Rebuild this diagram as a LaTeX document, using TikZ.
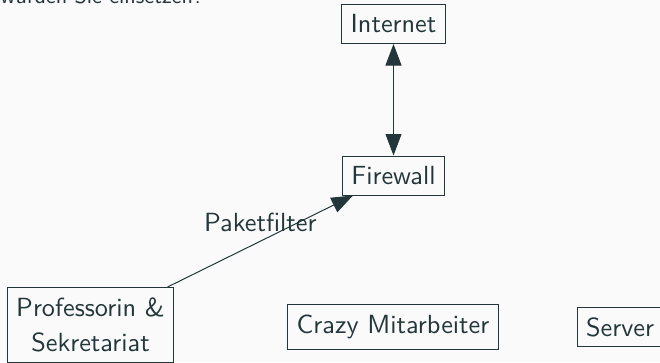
\documentclass[tikz,border=0pt]{standalone}
\usetikzlibrary{arrows.meta}
\definecolor{mDark}{HTML}{23373B}
\definecolor{mBg}{HTML}{FAFAFA}
\begin{document}
\begin{tikzpicture}[x=0.4pt,y=-0.4pt,font=\sffamily\fontsize{10.5}{12.6}\selectfont,
  every node/.style={text=mDark},
  box/.style={draw=mDark,line width=0.4pt,inner xsep=3.6pt,inner ysep=4.1pt,align=center},
  conn/.style={draw=mDark,line width=0.4pt,-{Triangle[length=8.6pt,width=6.4pt]}},
  biconn/.style={draw=mDark,line width=0.4pt,{Triangle[length=8.6pt,width=6.4pt]}-{Triangle[length=8.6pt,width=6.4pt]}}]
  \fill[mBg] (0,0) rectangle (660,362);
  \useasboundingbox (0,0) rectangle (660,362);
  \node[anchor=base west,inner sep=0pt,font=\sffamily\fontsize{8.6}{10}\selectfont] (q) at (0,3.5) {würden Sie einsetzen?};
  \node[box] (inet) at (393.5,24) {Internet};
  \node[box] (fw) at (393.5,175.5) {Firewall};
  \node[box] (prof) at (90.5,325) {Professorin \&\\[1.5pt]Sekretariat};
  \node[box] (crazy) at (393,327) {Crazy Mitarbeiter};
  \node[box] (srv) at (620,327) {Server};
  \draw[biconn] (inet) -- (fw);
  \draw[conn] (prof) -- node[midway,above,inner sep=3.4pt] (pf) {Paketfilter} (fw);
\end{tikzpicture}
\end{document}
